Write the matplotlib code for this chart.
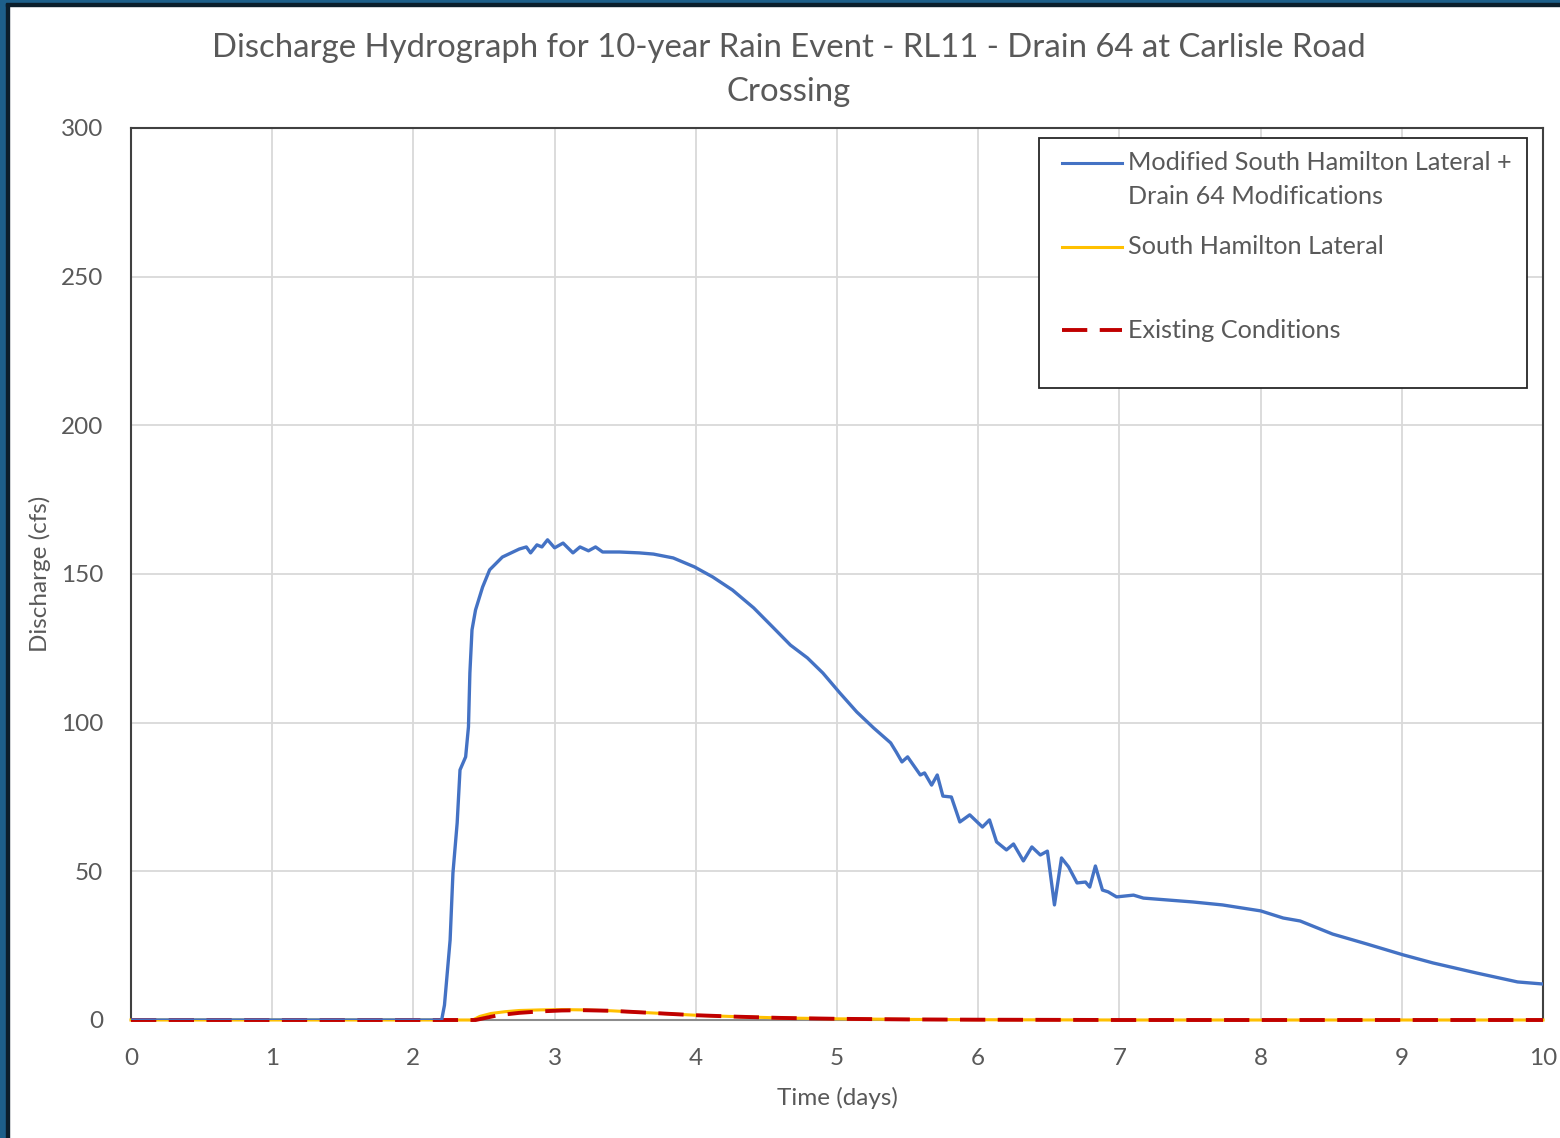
import matplotlib
matplotlib.use('Agg')
import matplotlib.pyplot as plt
from matplotlib.patches import Rectangle
from matplotlib.lines import Line2D

plt.rcParams['font.family'] = ['Lato', 'DejaVu Sans']

# --- data ---
t_mod = [0, 2.20, 2.22, 2.26, 2.28, 2.31, 2.33, 2.37, 2.39, 2.40, 2.415, 2.44, 2.49,
         2.54, 2.63, 2.75, 2.80, 2.83, 2.875, 2.91, 2.95, 3.00, 3.06, 3.13, 3.18, 3.24,
         3.29, 3.34, 3.46, 3.60, 3.70, 3.84, 3.99, 4.12, 4.26, 4.41, 4.55, 4.67, 4.79,
         4.90, 5.02, 5.14, 5.26, 5.38, 5.42, 5.46, 5.50, 5.59, 5.62, 5.67, 5.71, 5.75,
         5.81, 5.87, 5.94, 6.03, 6.08, 6.13, 6.20, 6.25, 6.32, 6.38, 6.44, 6.49, 6.54,
         6.59, 6.64, 6.70, 6.76, 6.79, 6.83, 6.88, 6.92, 6.98, 7.10, 7.17, 7.52, 7.73,
         8.00, 8.16, 8.28, 8.51, 8.75, 9.01, 9.22, 9.53, 9.82, 10.0]
q_mod = [0, 0, 5.0, 26.9, 49.4, 66.3, 84.1, 88.5, 98.6, 116.7, 131.2, 137.9, 145.6,
         151.4, 155.7, 158.4, 159.1, 157.1, 159.8, 159.1, 161.5, 158.8, 160.4, 157.1,
         159.1, 157.8, 159.1, 157.4, 157.4, 157.1, 156.7, 155.4, 152.4, 149.0, 144.6,
         138.6, 131.9, 126.1, 121.8, 116.7, 110.0, 103.6, 98.2, 93.2, 90.1, 86.8, 88.5,
         82.4, 83.1, 79.0, 82.4, 75.3, 75.0, 66.6, 69.0, 64.9, 67.3, 59.9, 57.2, 59.2,
         53.5, 58.2, 55.5, 56.8, 38.7, 54.5, 51.5, 46.1, 46.4, 44.7, 51.8, 43.7, 43.1,
         41.4, 42.0, 41.0, 39.7, 38.7, 36.7, 34.3, 33.3, 28.9, 25.6, 21.9, 19.2, 15.8,
         12.8, 12.1]

t_shl = [0, 2.42, 2.47, 2.55, 2.65, 2.75, 2.90, 3.05, 3.20, 3.40, 3.60, 3.80, 4.00,
         4.30, 4.60, 5.00, 5.50, 6.00, 7.00, 10.0]
q_shl = [0, 0, 1.2, 2.2, 2.8, 3.2, 3.4, 3.5, 3.4, 3.1, 2.6, 2.1, 1.6, 1.1, 0.7, 0.4,
         0.2, 0.1, 0, 0]

t_ex = [0, 2.44, 2.50, 2.60, 2.75, 2.90, 3.05, 3.20, 3.40, 3.60, 3.80, 4.00, 4.30,
        4.60, 5.00, 5.50, 6.00, 7.00, 10.0]
q_ex = [0, 0, 0.6, 1.6, 2.4, 2.9, 3.2, 3.3, 3.1, 2.6, 2.1, 1.6, 1.1, 0.7, 0.4, 0.2,
        0.1, 0, 0]

labels = ['Modified South Hamilton Lateral +\nDrain 64 Modifications',
          'South Hamilton Lateral', 'Existing Conditions']
title = 'Discharge Hydrograph for 10-year Rain Event - RL11 - Drain 64 at Carlisle Road\nCrossing'
x_ticks = list(range(0, 11))
y_ticks = [0, 50, 100, 150, 200, 250, 300]

BLUE = '#4472C4'
YELLOW = '#FFC000'
RED = '#C00000'
TXT = '#595959'

fig = plt.figure(figsize=(15.6, 11.38), dpi=100)
ax = fig.add_axes([131 / 1560, 118 / 1138, 1412 / 1560, 892 / 1138])

ax.plot(t_mod, q_mod, color=BLUE, lw=2.4, zorder=4)
ax.plot(t_shl, q_shl, color=YELLOW, lw=2.2, zorder=3, clip_on=False)
ax.plot(t_ex, q_ex, color=RED, lw=2.8, dashes=(6.5, 3.2), zorder=3.5, clip_on=False)

ax.set_xlim(0, 10)
ax.set_ylim(0, 300)
ax.set_xticks(x_ticks)
ax.set_yticks(y_ticks)
ax.grid(True, color='#d9d9d9', lw=1.3)
ax.set_axisbelow(True)
ax.tick_params(length=0, labelsize=17.5, labelcolor=TXT)
ax.tick_params(axis='x', pad=20)
ax.tick_params(axis='y', pad=20)
for s in ['left', 'top', 'right']:
    ax.spines[s].set_color('#404040')
    ax.spines[s].set_linewidth(1.5)
ax.spines['bottom'].set_color('#8c8c8c')
ax.spines['bottom'].set_linewidth(1.5)

ax.set_xlabel('Time (days)', fontsize=17.5, color=TXT, labelpad=13)
ax.set_ylabel('Discharge (cfs)', fontsize=17.5, color=TXT, labelpad=7)

fig.text(789 / 1560, 1 - 70 / 1138, title, ha='center', va='center', fontsize=23.7,
         color=TXT, linespacing=1.6)

# legend box drawn by hand to match the Excel layout
ax.add_patch(Rectangle((0.643, 0.7085), 0.346, 0.2805, transform=ax.transAxes,
                       facecolor='white', edgecolor='#262626', lw=1.3, zorder=6))
handles = [dict(color=BLUE, lw=2.2), dict(color=YELLOW, lw=2.2),
           dict(color=RED, lw=2.8, dashes=(6.5, 3.2))]
ys = [0.961, 0.867, 0.7735]
for h, y, lab in zip(handles, ys, labels):
    ax.add_line(Line2D([0.659, 0.702], [y, y], transform=ax.transAxes, zorder=7, **h))
    ty = y - 0.0185 if '\n' in lab else y
    ax.text(0.706, ty, lab, transform=ax.transAxes, ha='left', va='center',
            fontsize=18.2, color=TXT, linespacing=1.55, zorder=7)

# dark frame on the left and top edges of the screenshot
fig.patches.append(Rectangle((0, 0), 6 / 1560, 1, transform=fig.transFigure,
                             color='#1d5f8a', zorder=10))
fig.patches.append(Rectangle((6 / 1560, 0), 3 / 1560, 1, transform=fig.transFigure,
                             color='#0b1e2b', zorder=10))
fig.patches.append(Rectangle((0, 1 - 3 / 1138), 1, 3 / 1138, transform=fig.transFigure,
                             color='#1d5f8a', zorder=10))
fig.patches.append(Rectangle((6 / 1560, 1 - 6 / 1138), 1, 3 / 1138,
                             transform=fig.transFigure, color='#0b1e2b', zorder=10))

fig.savefig('out.png', dpi=100)
